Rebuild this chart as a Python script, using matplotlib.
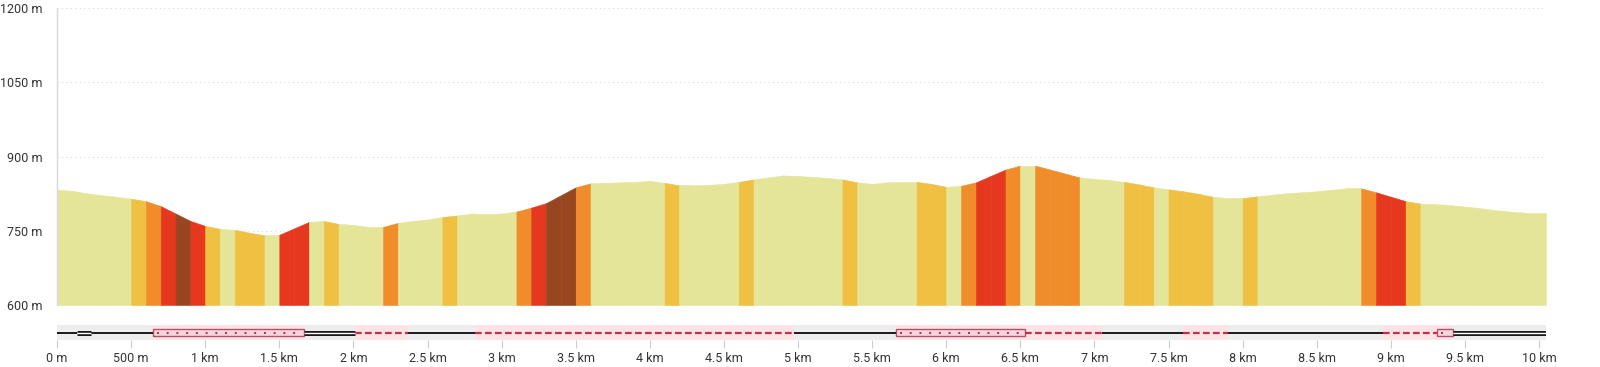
import matplotlib
matplotlib.use("Agg")
import matplotlib.pyplot as plt
from matplotlib.patches import Rectangle

plt.rcParams['font.family'] = ['Roboto', 'DejaVu Sans']

# elevation profile, sampled every 100 m (last point is the track end)
distance_km = [i / 10 for i in range(101)] + [10.05]
elevation_m = [
    833, 831, 826, 822, 819, 815, 810, 800, 785, 770,
    760, 754, 752, 746, 741, 742, 755, 768, 770, 764,
    762, 758, 758, 766, 770, 773, 778, 781, 785, 784,
    785, 789, 797, 806, 822, 838, 846, 847, 848, 849,
    851, 847, 842, 842, 843, 845, 849, 854, 858, 862,
    861, 859, 857, 854, 848, 845, 848, 849, 849, 845,
    839, 841, 848, 861, 874, 882, 882, 874, 866, 858,
    855, 853, 849, 844, 838, 834, 830, 825, 819, 816,
    816, 820, 823, 826, 828, 830, 833, 836, 836, 828,
    819, 810, 805, 804, 802, 799, 796, 792, 789, 787,
    787, 787,
]
# steepness class of every 100 m segment
grade_class = list("LLLLLYORBRYLYYLRRLYLLLOLLLYLLLLORBBOLLLLLYLLLLYLLLLLLYLLLLYYLORROLOOOLLLYYLYYYLLYLLLLLLLORRYLLLLLLLLL")
grade_colors = {
    'L': '#e4e598',
    'Y': '#f0c043',
    'O': '#f08c2a',
    'R': '#e5381f',
    'B': '#97461f',
}

# surface strip below the profile
surface_start = [0, 0.137, 0.227, 0.645, 1.67, 2.01, 2.37, 2.82, 4.97,
                 5.66, 6.53, 7.05, 7.60, 7.90, 8.95, 9.31, 9.42]
surface_type = ['road', 'double', 'road', 'dotted', 'double', 'dashed', 'road',
                'dashed', 'road', 'dotted', 'dashed', 'road', 'dashed', 'road',
                'dashed', 'dotted', 'double']
track_end = 10.05

y_ticks = [600, 750, 900, 1050, 1200]
y_labels = ['600 m', '750 m', '900 m', '1050 m', '1200 m']
x_ticks = [0, 0.5, 1, 1.5, 2, 2.5, 3, 3.5, 4, 4.5, 5, 5.5, 6, 6.5, 7, 7.5, 8, 8.5, 9, 9.5, 10]
x_labels = ['0 m', '500 m', '1 km', '1.5 km', '2 km', '2.5 km', '3 km', '3.5 km', '4 km',
            '4.5 km', '5 km', '5.5 km', '6 km', '6.5 km', '7 km', '7.5 km', '8 km',
            '8.5 km', '9 km', '9.5 km', '10 km']

W, H = 1600, 367
fig = plt.figure(figsize=(W / 100, H / 100), dpi=100)
left = 57 / W
width = (track_end * 148.2) / W

ax = fig.add_axes([left, (H - 305) / H, width, 296.7 / H])
for i in range(len(grade_class)):
    c = grade_colors[grade_class[i]]
    ax.fill_between(distance_km[i:i + 2], elevation_m[i:i + 2], 600,
                    facecolor=c, edgecolor=c, linewidth=0.4, zorder=2)
ax.set_xlim(0, track_end)
ax.set_ylim(600, 1200)
ax.set_yticks(y_ticks)
ax.set_yticklabels(y_labels)
ax.set_xticks([])
for y in y_ticks[1:]:
    ax.axhline(y, color='#d8d8d8', linestyle=(0, (1, 3)), linewidth=0.8, zorder=1)
for s in ['top', 'right', 'bottom']:
    ax.spines[s].set_visible(False)
ax.spines['left'].set_color('#d0d8e2')
ax.spines['left'].set_linewidth(1.0)
ax.tick_params(axis='y', length=0, pad=10.5, labelsize=9, labelcolor='#333333')

# surface strip
sx = fig.add_axes([left, (H - 340) / H, width, 15 / H])
sx.set_xlim(0, track_end)
sx.set_ylim(-1, 1)
sx.add_patch(Rectangle((0, -1), track_end, 2, facecolor='#ededed', edgecolor='none', zorder=0))
surface_end = surface_start[1:] + [track_end]
for a, b, kind in zip(surface_start, surface_end, surface_type):
    if kind == 'road':
        sx.plot([a, b], [0, 0], color='#1a1a1a', linewidth=1.4, solid_capstyle='butt', zorder=3)
    elif kind == 'double':
        sx.plot([a, b], [0, 0], color='#1a1a1a', linewidth=3.6, solid_capstyle='butt', zorder=3)
        sx.plot([a, b], [0, 0], color='#ffffff', linewidth=1.0, solid_capstyle='butt', zorder=4)
    elif kind == 'dashed':
        sx.add_patch(Rectangle((a, -1), b - a, 2, facecolor='#fde2e6', edgecolor='none', zorder=1))
        sx.plot([a, b], [0, 0], color='#c2304c', linewidth=1.6,
                linestyle=(0, (3, 1.5)), dash_capstyle='butt', zorder=3)
    elif kind == 'dotted':
        sx.add_patch(Rectangle((a, -1), b - a, 2, facecolor='#fde2e6', edgecolor='none', zorder=1))
        sx.add_patch(Rectangle((a, -0.45), b - a, 0.9, facecolor='#f9d6dd',
                               edgecolor='#b4506a', linewidth=1.0, zorder=2))
        sx.plot([a + 0.03, b - 0.03], [0, 0], color='#a8304e', linewidth=1.4,
                linestyle=(0, (1, 4)), zorder=3)
for s in sx.spines.values():
    s.set_visible(False)
sx.set_yticks([])
sx.set_xticks(x_ticks)
sx.set_xticklabels(x_labels)
sx.tick_params(axis='x', length=6, width=0.8, color='#cccccc', pad=3,
               labelsize=9, labelcolor='#333333')

fig.savefig('out.png', dpi=100)
